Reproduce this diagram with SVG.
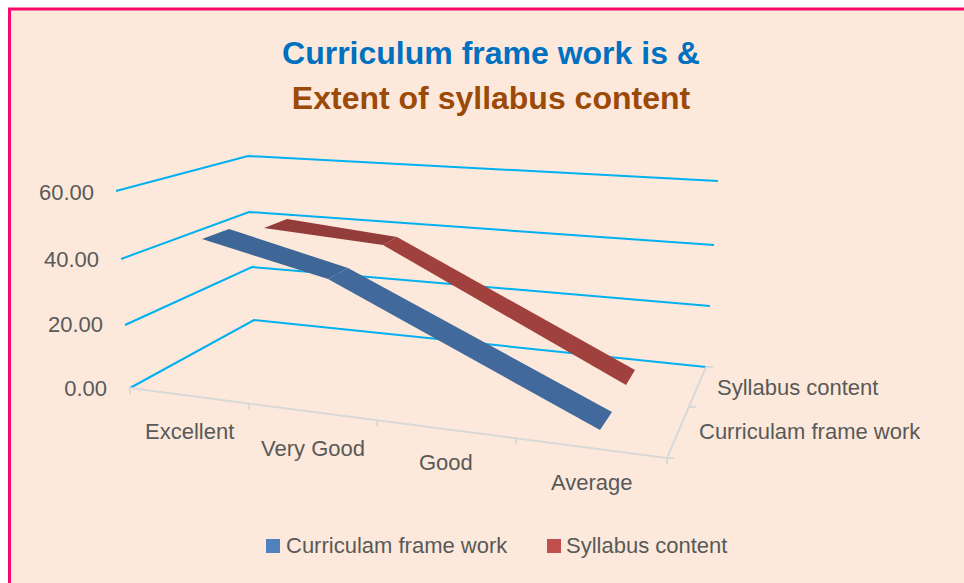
<svg xmlns="http://www.w3.org/2000/svg" width="964" height="583" viewBox="0 0 964 583">
<style>
.t{font-family:"Liberation Sans",Arial,sans-serif;font-size:22px;fill:#595959}
.title{font-family:"Liberation Sans",Arial,sans-serif;font-size:32px;font-weight:bold;text-anchor:middle}
.grid{fill:none;stroke:#00B0F0;stroke-width:2}
.axis{fill:none;stroke:#D9D9D9;stroke-width:2}
</style>
<rect x="0" y="0" width="964" height="583" fill="#FFFFFF"/>
<rect x="9.5" y="9" width="970" height="590" fill="#FCE9DB" stroke="#F50A6A" stroke-width="3"/>
<g id="title">
<text class="title" x="491" y="64" fill="#0070C0">Curriculum frame work is &amp;</text>
<text class="title" x="491" y="109" fill="#9C4A08">Extent of syllabus content</text>
</g>
<g id="gridlines">
<polyline class="grid" points="116,191 248,156 718,181"/>
<polyline class="grid" points="121,259 249,212 714,245"/>
<polyline class="grid" points="125,325 252,267 710,306"/>
<polyline class="grid" points="130,388 254,320 706,367"/>
</g>
<g id="axes">
<line class="axis" x1="130" y1="388" x2="667" y2="458"/>
<line class="axis" x1="130" y1="388" x2="130" y2="394"/>
<line class="axis" x1="249" y1="403.5" x2="249" y2="409.5"/>
<line class="axis" x1="377" y1="420.2" x2="377" y2="426.2"/>
<line class="axis" x1="516" y1="438.3" x2="516" y2="444.3"/>
<line class="axis" x1="667" y1="458" x2="667" y2="464"/>
<line class="axis" x1="667" y1="458" x2="706" y2="367"/>
<line class="axis" x1="706" y1="367" x2="713" y2="367"/>
<line class="axis" x1="689" y1="407" x2="696" y2="407"/>
<line class="axis" x1="667" y1="458" x2="674" y2="458"/>
</g>
<g id="series-syllabus-content">
<polygon points="264,228 287,219 397,237 383,245" fill="#933D3A"/>
<polygon points="397,237 635,370 626,385 383,245" fill="#A0413E"/>
</g>
<g id="series-curriculam-frame-work">
<polygon points="202,239 229,229 348,268 328,279" fill="#3E6696"/>
<polygon points="348,268 612,412 600,430 328,279" fill="#41699C"/>
</g>
<g id="value-labels" class="t" text-anchor="end">
<text x="94" y="200">60.00</text>
<text x="99" y="267">40.00</text>
<text x="103" y="332">20.00</text>
<text x="107" y="396">0.00</text>
</g>
<g id="category-labels" class="t">
<text x="145" y="439">Excellent</text>
<text x="261" y="456">Very Good</text>
<text x="419" y="470">Good</text>
<text x="551" y="490">Average</text>
</g>
<g id="series-labels" class="t">
<text x="717" y="395">Syllabus content</text>
<text x="699" y="439">Curriculam frame work</text>
</g>
<g id="legend">
<rect x="266" y="539" width="14" height="14" fill="#4F81BD"/>
<text class="t" x="286" y="553">Curriculam frame work</text>
<rect x="547" y="539" width="14" height="14" fill="#C0504D"/>
<text class="t" x="566" y="553">Syllabus content</text>
</g>
</svg>
